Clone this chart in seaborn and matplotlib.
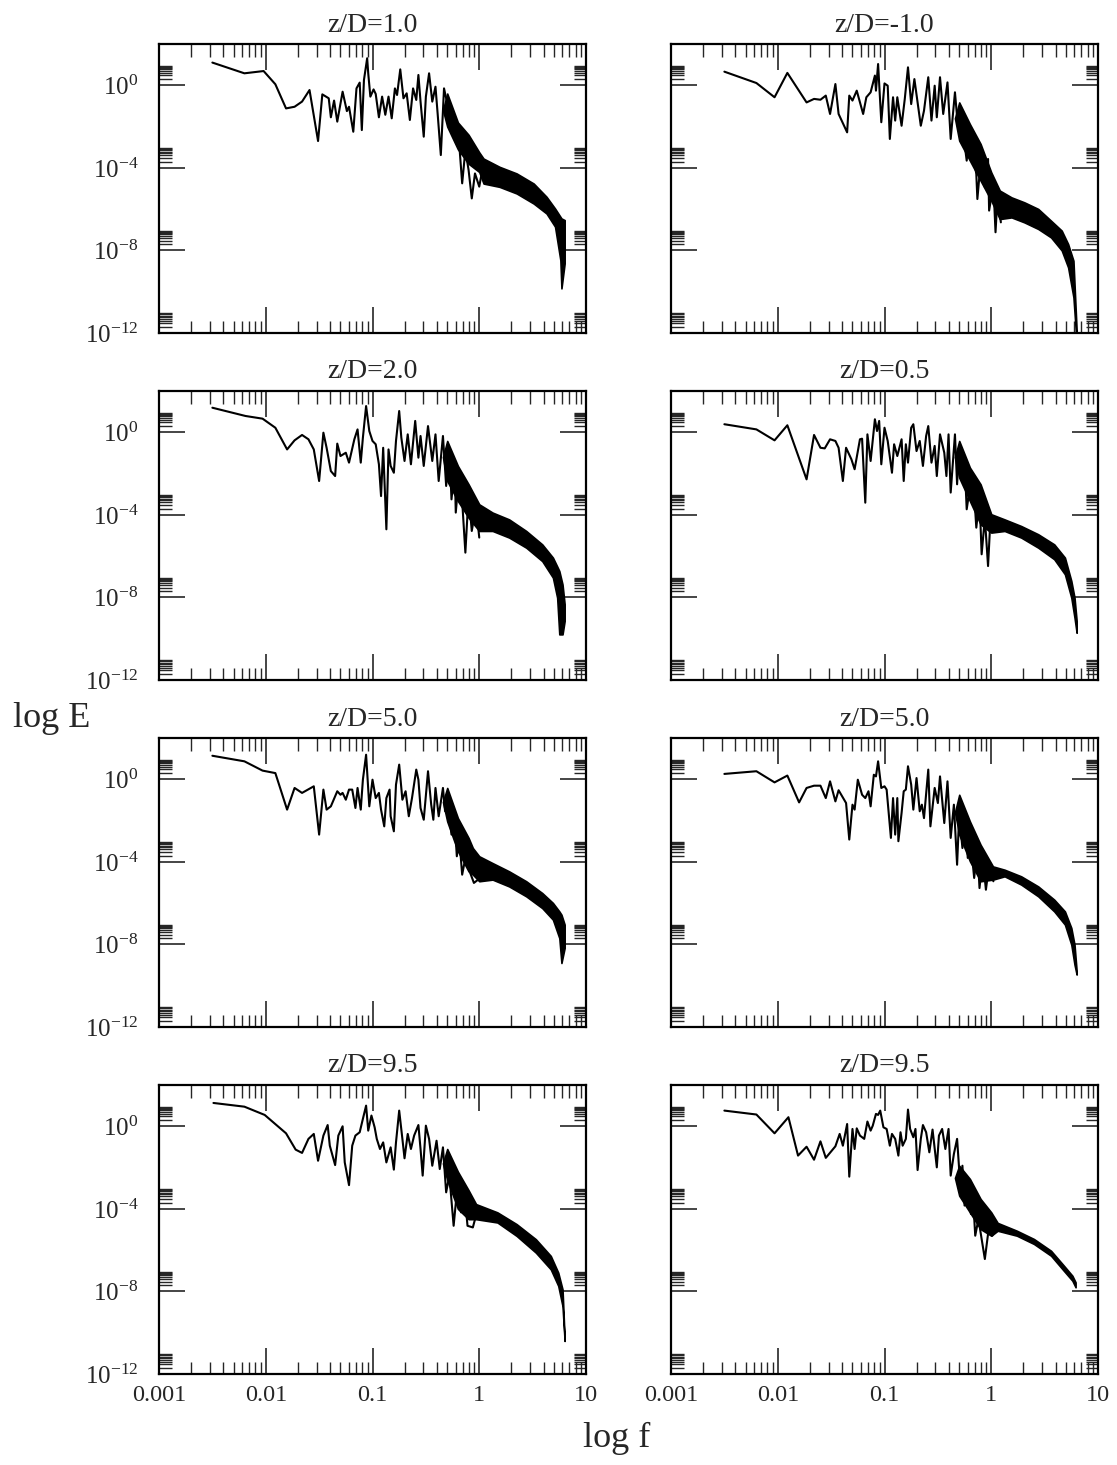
import numpy as np
import pandas as pd
import matplotlib
matplotlib.use("Agg")
import matplotlib.pyplot as plt
import matplotlib.ticker as mticker
import seaborn as sns

# ---------------- data (log10 f, log10 E) ----------------
titles = ["z/D=1.0", "z/D=-1.0", "z/D=2.0", "z/D=0.5",
          "z/D=5.0", "z/D=5.0", "z/D=9.5", "z/D=9.5"]

logf_1 = [-2.50,-2.20,-2.02,-1.91,-1.81,-1.73,-1.66,-1.59,-1.51,-1.47,-1.41,-1.39,-1.36,-1.33,-1.28,-1.24,-1.22,-1.18,-1.15,-1.12,-1.10,-1.08,-1.05,-1.04,-1.02,-0.99,-0.97,-0.94,-0.91,-0.88,-0.85,-0.82,-0.79,-0.77,-0.74,-0.71,-0.68,-0.65,-0.62,-0.59,-0.57,-0.55,-0.52,-0.50,-0.47,-0.44,-0.41,-0.39,-0.36,-0.33,-0.30,-0.27,-0.24,-0.20,-0.16,-0.13,-0.10,-0.07,-0.04,0.00,0.04]
logE_1 = [1.10,0.58,0.69,0.05,-1.12,-1.04,-0.79,-0.23,-2.70,-0.44,-0.63,-1.55,-0.74,-1.76,-0.31,-1.25,-1.04,-2.25,-0.15,0.13,-2.17,0.26,1.31,0.58,-0.55,-0.20,-0.42,-1.55,-0.55,-1.43,-0.55,-1.60,-0.15,-0.47,0.77,-0.63,-0.39,-1.68,-0.15,-0.71,0.50,-0.79,-2.49,-0.55,0.58,-0.79,-0.07,-1.36,-3.38,-0.15,-0.87,-1.36,-2.17,-2.00,-4.75,-3.14,-4.10,-5.48,-4.27,-4.91,-3.78]
bandf_1 = [-0.34,-0.30,-0.20,-0.10,0.00,0.04,0.19,0.35,0.51,0.63,0.71,0.76,0.77,0.80]
hi_1 = [-1.20,-0.40,-1.80,-2.40,-3.25,-3.55,-3.95,-4.27,-4.76,-5.40,-5.97,-6.37,-6.45,-6.53]
lo_1 = [-1.20,-2.00,-3.10,-3.80,-4.20,-4.76,-4.92,-5.24,-5.73,-6.21,-6.85,-8.47,-9.84,-8.63]

logf_2 = [-2.50,-2.20,-2.03,-1.91,-1.73,-1.66,-1.60,-1.55,-1.51,-1.46,-1.43,-1.35,-1.33,-1.30,-1.26,-1.20,-1.17,-1.13,-1.09,-1.08,-1.06,-1.03,-1.00,-0.97,-0.95,-0.92,-0.90,-0.88,-0.84,-0.81,-0.78,-0.75,-0.72,-0.69,-0.66,-0.63,-0.59,-0.56,-0.53,-0.51,-0.48,-0.45,-0.41,-0.38,-0.34,-0.31,-0.28,-0.25,-0.23,-0.20,-0.17,-0.14,-0.13,-0.09,-0.06,-0.03,-0.02,0.02,0.04,0.06,0.09]
logE_2 = [0.66,0.11,-0.58,0.60,-0.83,-0.66,-0.70,-0.50,-1.39,0.06,-1.39,-2.28,-0.50,-0.74,-0.26,-1.39,-0.58,-0.34,0.47,-0.26,1.03,-1.79,0.09,-0.02,-2.60,-0.58,-1.71,-0.58,-1.96,-0.66,0.87,-0.91,0.30,-0.83,-1.96,-1.23,0.39,-1.71,-0.02,-1.55,0.39,-1.39,0.14,-2.60,-0.34,-2.12,-1.23,-2.84,-3.65,-2.04,-3.33,-4.30,-5.51,-3.17,-4.94,-3.57,-6.07,-4.78,-7.12,-5.27,-6.64]
bandf_2 = [-0.34,-0.30,-0.20,-0.10,0.00,0.08,0.19,0.31,0.44,0.56,0.66,0.72,0.77,0.80]
hi_2 = [-1.60,-0.83,-1.88,-2.84,-4.22,-5.10,-5.43,-5.67,-5.99,-6.56,-7.04,-7.69,-8.50,-11.90]
lo_2 = [-1.60,-2.68,-3.65,-4.62,-5.59,-6.48,-6.40,-6.64,-6.96,-7.37,-8.00,-8.82,-10.27,-12.50]

logf_3 = [-2.50,-2.19,-2.03,-1.91,-1.80,-1.73,-1.66,-1.60,-1.55,-1.50,-1.46,-1.43,-1.39,-1.35,-1.33,-1.30,-1.25,-1.22,-1.17,-1.14,-1.11,-1.09,-1.06,-1.03,-1.00,-0.97,-0.94,-0.92,-0.90,-0.87,-0.85,-0.83,-0.80,-0.78,-0.75,-0.73,-0.70,-0.67,-0.64,-0.60,-0.57,-0.55,-0.52,-0.48,-0.44,-0.41,-0.38,-0.34,-0.31,-0.28,-0.26,-0.23,-0.22,-0.19,-0.16,-0.13,-0.10,-0.07,-0.03,0.00]
logE_3 = [1.19,0.79,0.66,0.22,-0.83,-0.39,-0.13,-0.34,-0.83,-2.36,-0.02,-0.75,-1.88,-2.12,-0.55,-1.15,-0.99,-1.47,-0.34,0.14,-1.47,-0.26,1.27,0.06,-0.42,-0.58,-1.55,-3.09,-0.75,-4.70,-0.83,-1.63,-1.96,-0.42,1.03,-0.26,-1.39,-0.10,-1.55,0.55,-1.23,-0.18,-1.63,0.30,-1.39,-0.10,-2.36,-0.18,-2.60,-0.83,-3.25,-1.63,-3.89,-2.12,-3.33,-5.83,-3.00,-4.78,-3.57,-5.10]
bandf_3 = [-0.34,-0.30,-0.20,-0.10,0.00,0.125,0.28,0.44,0.59,0.69,0.73,0.75,0.78,0.80]
hi_3 = [-1.20,-0.42,-1.63,-2.52,-3.49,-3.89,-4.22,-4.78,-5.43,-6.07,-6.50,-6.72,-7.37,-8.33]
lo_3 = [-1.20,-2.36,-3.33,-4.14,-4.78,-4.78,-5.10,-5.59,-6.24,-7.04,-8.01,-9.79,-9.79,-9.14]

logf_4 = [-2.50,-2.20,-2.03,-1.91,-1.73,-1.66,-1.60,-1.56,-1.51,-1.46,-1.43,-1.39,-1.36,-1.31,-1.28,-1.23,-1.21,-1.18,-1.16,-1.13,-1.09,-1.07,-1.05,-1.03,-1.00,-0.97,-0.93,-0.91,-0.88,-0.84,-0.82,-0.80,-0.78,-0.75,-0.73,-0.70,-0.67,-0.64,-0.61,-0.59,-0.56,-0.53,-0.51,-0.48,-0.44,-0.42,-0.40,-0.38,-0.34,-0.32,-0.30,-0.28,-0.25,-0.23,-0.20,-0.17,-0.14,-0.11,-0.09,-0.06,-0.03,-0.01]
logE_4 = [0.39,0.14,-0.39,0.34,-2.28,-0.13,-0.75,-0.78,-0.34,-0.42,-0.75,-2.36,-0.75,-1.31,-1.79,-0.34,-0.31,-3.41,-0.10,-1.39,0.63,0.06,0.55,-1.55,0.22,-0.42,-1.96,-0.58,-1.15,-0.34,-2.36,-0.58,-1.47,0.22,0.39,-0.91,-0.42,-1.63,-0.18,0.30,-1.47,-0.66,-2.12,-0.10,-0.99,-2.12,-0.10,-2.92,-0.10,-2.52,-0.66,-2.04,-1.39,-3.73,-2.68,-2.20,-4.62,-3.17,-5.91,-4.14,-6.48,-4.46]
bandf_4 = [-0.34,-0.30,-0.20,-0.10,0.00,0.125,0.28,0.44,0.59,0.69,0.75,0.78,0.80]
hi_4 = [-1.20,-0.42,-1.71,-2.52,-3.97,-4.22,-4.54,-4.94,-5.43,-6.07,-7.20,-8.01,-9.14]
lo_4 = [-1.20,-2.20,-3.33,-4.46,-4.86,-4.78,-5.10,-5.59,-6.15,-6.88,-8.01,-8.98,-9.71]

logf_5 = [-2.50,-2.20,-2.03,-1.91,-1.80,-1.73,-1.66,-1.55,-1.50,-1.46,-1.43,-1.39,-1.33,-1.30,-1.28,-1.25,-1.22,-1.19,-1.16,-1.14,-1.11,-1.09,-1.06,-1.03,-1.00,-0.97,-0.94,-0.92,-0.89,-0.87,-0.84,-0.83,-0.80,-0.78,-0.75,-0.72,-0.69,-0.66,-0.63,-0.59,-0.57,-0.55,-0.52,-0.48,-0.45,-0.43,-0.41,-0.38,-0.34,-0.32,-0.29,-0.26,-0.23,-0.21,-0.19,-0.16,-0.13,-0.09,-0.05,0.01]
logE_5 = [1.14,0.87,0.42,0.30,-1.47,-0.42,-0.66,-0.34,-2.68,-0.50,-1.47,-1.31,-0.58,-0.75,-0.66,-0.99,-0.50,-0.50,-1.39,-0.42,-1.47,-0.02,1.19,-1.31,-0.02,-0.91,-0.66,-1.47,-2.28,-0.91,-0.50,-1.79,-2.52,-0.26,0.71,-0.99,-0.58,-1.79,-0.91,0.47,-0.02,-1.39,-1.96,0.39,-1.23,-1.96,-0.42,-1.79,-0.42,-1.55,-1.23,-2.68,-2.12,-3.73,-2.68,-4.62,-3.81,-4.46,-5.02,-4.78]
bandf_5 = [-0.34,-0.30,-0.20,-0.10,-0.06,0.00,0.125,0.28,0.44,0.59,0.69,0.75,0.77,0.80]
hi_5 = [-1.10,-0.42,-1.88,-2.84,-3.33,-3.73,-4.06,-4.46,-4.94,-5.51,-5.99,-6.40,-6.56,-7.04]
lo_5 = [-1.10,-2.04,-3.49,-4.46,-4.62,-4.94,-4.86,-5.19,-5.67,-6.24,-6.80,-7.69,-8.90,-8.17]

logf_6 = [-2.50,-2.20,-2.03,-1.91,-1.80,-1.73,-1.66,-1.60,-1.55,-1.51,-1.46,-1.43,-1.36,-1.33,-1.30,-1.28,-1.25,-1.21,-1.18,-1.15,-1.13,-1.10,-1.08,-1.06,-1.03,-1.00,-0.98,-0.94,-0.92,-0.90,-0.88,-0.87,-0.84,-0.82,-0.80,-0.78,-0.75,-0.73,-0.70,-0.67,-0.65,-0.63,-0.59,-0.57,-0.53,-0.50,-0.48,-0.44,-0.41,-0.38,-0.35,-0.32,-0.30,-0.27,-0.24,-0.22,-0.19,-0.16,-0.13,-0.11,-0.08,-0.05,-0.02,0.02]
logE_6 = [0.26,0.39,-0.15,0.18,-1.12,-0.42,-0.31,-0.31,-0.91,-0.10,-1.07,-0.53,-1.15,-2.92,-1.23,-1.47,-0.02,-0.75,-0.91,-0.58,-1.31,0.22,0.14,0.87,-0.42,-0.34,-0.50,-2.84,-0.91,-2.68,-0.91,-3.00,-1.63,-0.58,-0.50,0.63,-0.26,-1.47,0.06,-1.55,-1.23,-1.88,0.47,-2.28,-0.42,-1.15,0.14,-2.12,-0.10,-2.84,-1.23,-4.14,-1.71,-3.33,-2.36,-3.81,-3.17,-4.78,-3.33,-5.27,-3.81,-5.35,-4.14,-4.94]
bandf_6 = [-0.34,-0.30,-0.20,-0.10,0.016,0.125,0.28,0.44,0.59,0.69,0.75,0.78,0.80]
hi_6 = [-1.60,-0.75,-2.04,-3.17,-4.22,-4.38,-4.70,-5.19,-5.83,-6.40,-7.20,-8.01,-9.30]
lo_6 = [-1.60,-2.68,-3.97,-4.94,-4.86,-4.70,-5.10,-5.67,-6.40,-7.04,-8.01,-8.98,-9.46]

logf_7 = [-2.49,-2.20,-2.01,-1.81,-1.72,-1.66,-1.60,-1.55,-1.51,-1.46,-1.42,-1.40,-1.35,-1.32,-1.28,-1.26,-1.22,-1.19,-1.16,-1.12,-1.09,-1.06,-1.04,-1.01,-0.98,-0.96,-0.93,-0.90,-0.87,-0.83,-0.80,-0.78,-0.75,-0.72,-0.70,-0.67,-0.64,-0.61,-0.57,-0.55,-0.53,-0.50,-0.47,-0.44,-0.40,-0.37,-0.34,-0.31,-0.28,-0.24,-0.21,-0.17,-0.13,-0.11,-0.06,-0.01]
logE_7 = [1.13,0.95,0.55,-0.34,-1.13,-1.29,-0.61,-0.37,-1.67,-0.45,0.06,-0.94,-1.88,-0.45,0.00,-1.75,-2.85,-0.94,-0.45,-0.29,0.36,1.00,-0.21,0.52,-0.05,-0.61,-1.10,-0.78,-1.75,-1.02,-2.10,-0.78,0.76,-0.61,-1.55,-0.37,-1.10,-0.45,0.06,-1.10,-2.39,0.03,-0.61,-1.91,-0.70,-2.07,-1.02,-3.20,-2.39,-4.82,-3.20,-4.17,-3.69,-4.82,-4.90,-3.93]
bandf_7 = [-0.34,-0.30,-0.20,-0.10,-0.03,0.17,0.35,0.53,0.67,0.74,0.78,0.80]
hi_7 = [-1.80,-1.10,-2.20,-3.10,-3.77,-4.17,-4.74,-5.47,-6.28,-7.09,-7.90,-10.32]
lo_7 = [-1.80,-2.60,-4.00,-4.50,-4.50,-4.66,-5.31,-6.12,-6.93,-7.73,-8.71,-10.40]

logf_8 = [-2.50,-2.20,-2.03,-1.90,-1.81,-1.73,-1.66,-1.60,-1.55,-1.46,-1.42,-1.39,-1.35,-1.33,-1.30,-1.28,-1.26,-1.23,-1.19,-1.16,-1.13,-1.11,-1.08,-1.06,-1.04,-1.01,-0.98,-0.95,-0.93,-0.90,-0.87,-0.85,-0.83,-0.80,-0.78,-0.76,-0.73,-0.71,-0.69,-0.66,-0.64,-0.61,-0.58,-0.55,-0.51,-0.49,-0.46,-0.43,-0.40,-0.38,-0.35,-0.32,-0.29,-0.27,-0.25,-0.23,-0.19,-0.17,-0.15,-0.12,-0.09,-0.06,-0.02,0.01,0.06]
logE_8 = [0.76,0.57,-0.34,0.44,-1.42,-0.99,-1.62,-0.73,-1.53,-0.97,-0.37,-0.94,0.11,-2.44,-0.13,-1.10,-0.10,-0.45,-0.61,0.23,-0.21,0.03,0.60,0.55,0.76,-0.05,-0.13,-0.94,-0.37,-0.61,-1.42,-0.29,-0.94,-0.61,0.81,-0.13,-0.53,-0.13,-2.12,-0.61,0.06,-0.29,-1.26,-0.16,-1.99,-0.45,-0.13,-1.10,-0.13,-2.39,-1.34,-0.61,-2.88,-1.91,-3.84,-2.71,-4.25,-3.52,-5.30,-4.49,-5.46,-6.43,-4.81,-5.30,-4.73]
bandf_8 = [-0.34,-0.30,-0.20,-0.10,0.00,0.06,0.24,0.40,0.56,0.68,0.76,0.79]
hi_8 = [-2.50,-1.91,-2.55,-3.52,-4.17,-4.68,-5.06,-5.46,-6.03,-6.75,-7.24,-7.56]
lo_8 = [-2.50,-3.36,-4.17,-4.98,-5.30,-5.06,-5.30,-5.70,-6.27,-7.00,-7.48,-7.80]

x_tick_vals = [0.001, 0.01, 0.1, 1, 10]
x_tick_labels = ["0.001", "0.01", "0.1", "1", "10"]
y_tick_exps = [0, -4, -8, -12]

lines = [(logf_1, logE_1), (logf_2, logE_2), (logf_3, logE_3), (logf_4, logE_4),
         (logf_5, logE_5), (logf_6, logE_6), (logf_7, logE_7), (logf_8, logE_8)]
bands = [(bandf_1, lo_1, hi_1), (bandf_2, lo_2, hi_2), (bandf_3, lo_3, hi_3),
         (bandf_4, lo_4, hi_4), (bandf_5, lo_5, hi_5), (bandf_6, lo_6, hi_6),
         (bandf_7, lo_7, hi_7), (bandf_8, lo_8, hi_8)]

rows = []
for i, (lf, le) in enumerate(lines):
    for a, b in zip(lf, le):
        rows.append({"panel": i, "f": 10.0 ** a, "E": 10.0 ** b})
df = pd.DataFrame(rows)

# ---------------- style ----------------
sns.set_style("white")
plt.rcParams["font.family"] = ["Liberation Serif", "DejaVu Serif"]
plt.rcParams["mathtext.fontset"] = "custom"
plt.rcParams["mathtext.rm"] = "Liberation Serif"
plt.rcParams["mathtext.it"] = "Liberation Serif:italic"
plt.rcParams["mathtext.default"] = "regular"

W, H = 1117, 1465
fig = plt.figure(figsize=(W / 100, H / 100), dpi=100)

col_left = [159, 671]
row_top = [44, 391, 738, 1085]
aw, ah = 427, 289

for i in range(8):
    r, c = divmod(i, 2)
    ax = fig.add_axes([col_left[c] / W, 1 - (row_top[r] + ah) / H, aw / W, ah / H])
    sub = df[df.panel == i]
    sns.lineplot(data=sub, x="f", y="E", sort=False, estimator=None,
                 color="black", lw=1.5, ax=ax)
    bf, lo, hi = bands[i]
    ax.fill_between(np.power(10.0, bf), np.power(10.0, lo), np.power(10.0, hi),
                    color="black", lw=1.2, edgecolor="black")
    ax.set_xscale("log")
    ax.set_yscale("log")
    ax.set_xlim(1e-3, 10)
    ax.set_ylim(1e-12, 1e2)
    ax.set_xlabel("")
    ax.set_ylabel("")
    ax.set_title(titles[i], fontsize=20, pad=9)

    ax.xaxis.set_major_locator(mticker.FixedLocator(x_tick_vals))
    ax.xaxis.set_major_formatter(mticker.FixedFormatter(x_tick_labels))
    ax.xaxis.set_minor_locator(mticker.LogLocator(base=10, subs=np.arange(2, 10)))
    ax.xaxis.set_minor_formatter(mticker.NullFormatter())

    yt = [10.0 ** e for e in y_tick_exps]
    ax.yaxis.set_major_locator(mticker.FixedLocator(yt))
    ax.yaxis.set_major_formatter(mticker.FixedFormatter(
        [r"$10^{%d}$" % e for e in y_tick_exps]))
    ax.yaxis.set_minor_locator(mticker.FixedLocator(
        [k * 10.0 ** e for e in y_tick_exps for k in range(2, 10)]))
    ax.yaxis.set_minor_formatter(mticker.NullFormatter())

    ax.tick_params(which="major", direction="in", length=19, width=1.2,
                   top=True, right=True, bottom=True, left=True)
    ax.tick_params(which="minor", direction="in", length=9, width=1.0,
                   top=True, right=True, bottom=True, left=True)
    ax.tick_params(axis="x", which="major", pad=8, labelsize=17.5)
    ax.tick_params(axis="y", which="major", pad=15, labelsize=18)
    ax.tick_params(labelleft=(c == 0), labelbottom=(r == 3))
    for s in ax.spines.values():
        s.set_linewidth(1.6)
        s.set_color("black")

fig.text(52 / W, 1 - 718 / H, "log E", fontsize=26, ha="center", va="center")
fig.text(617 / W, 1 - 1438 / H, "log f", fontsize=26, ha="center", va="center")

fig.savefig("out.png", dpi=100)
